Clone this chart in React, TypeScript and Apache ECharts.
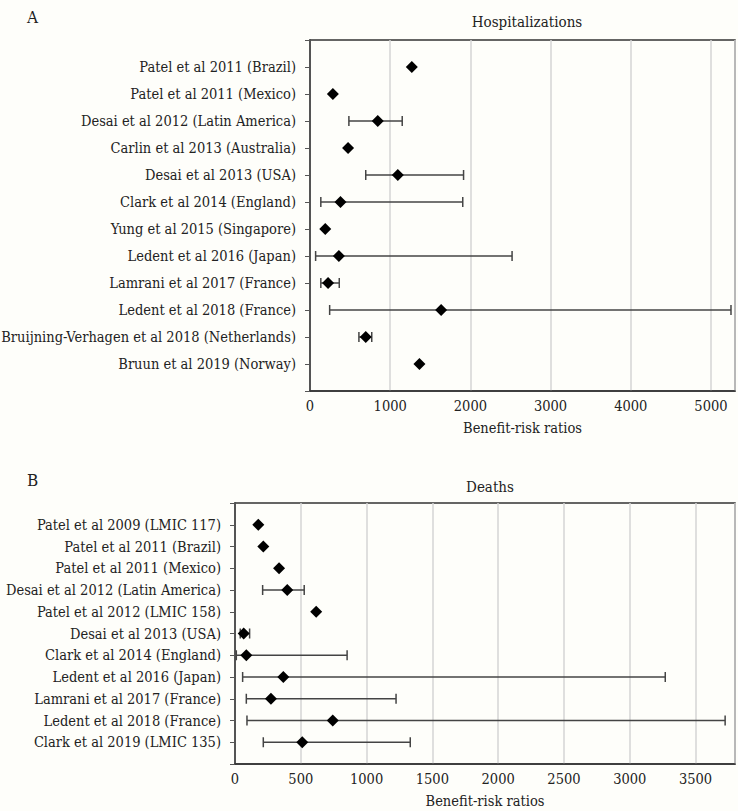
import React, { useEffect, useRef } from "react";
import * as echarts from "echarts";

const hospLabels = [
  "Patel et al 2011 (Brazil)",
  "Patel et al 2011 (Mexico)",
  "Desai et al 2012 (Latin America)",
  "Carlin et al 2013 (Australia)",
  "Desai et al 2013 (USA)",
  "Clark et al 2014 (England)",
  "Yung et al 2015 (Singapore)",
  "Ledent et al 2016 (Japan)",
  "Lamrani et al 2017 (France)",
  "Ledent et al 2018 (France)",
  "Bruijning-Verhagen et al 2018 (Netherlands)",
  "Bruun et al 2019 (Norway)",
];
const hospValues = [1270, 285, 845, 475, 1095, 380, 190, 360, 225, 1635, 695, 1365];
const hospLow = [null, null, 485, null, 695, 135, null, 70, 135, 245, 610, null];
const hospHigh = [null, null, 1150, null, 1915, 1905, null, 2520, 365, 5250, 770, null];

const deathLabels = [
  "Patel et al 2009 (LMIC 117)",
  "Patel et al 2011 (Brazil)",
  "Patel et al 2011 (Mexico)",
  "Desai et al 2012 (Latin America)",
  "Patel et al 2012 (LMIC 158)",
  "Desai et al 2013 (USA)",
  "Clark et al 2014 (England)",
  "Ledent et al 2016 (Japan)",
  "Lamrani et al 2017 (France)",
  "Ledent et al 2018 (France)",
  "Clark et al 2019 (LMIC 135)",
];
const deathValues = [177, 215, 335, 397, 617, 66, 86, 367, 273, 743, 511];
const deathLow = [null, null, null, 210, null, 40, 10, 58, 86, 91, 215];
const deathHigh = [null, null, null, 526, null, 111, 852, 3270, 1224, 3725, 1332];

const FONT = "DejaVu Serif Condensed";
const TXT = "#222";
const FS = 14.5;

function errorRender(params: any, api: any) {
  const lo = api.coord([api.value(0), api.value(2)]);
  const hi = api.coord([api.value(1), api.value(2)]);
  const h = 5;
  const style = { stroke: "#444", lineWidth: 1.5 };
  return {
    type: "group",
    children: [
      { type: "line", shape: { x1: lo[0], y1: lo[1], x2: hi[0], y2: hi[1] }, style },
      { type: "line", shape: { x1: lo[0], y1: lo[1] - h, x2: lo[0], y2: lo[1] + h }, style },
      { type: "line", shape: { x1: hi[0], y1: hi[1] - h, x2: hi[0], y2: hi[1] + h }, style },
    ],
  };
}

function errData(low: (number | null)[], high: (number | null)[]) {
  const out: number[][] = [];
  low.forEach((l, i) => {
    const h = high[i];
    if (l != null && h != null) out.push([l, h, i + 1]);
  });
  return out;
}

function yAxisFor(labels: string[], gridIndex: number) {
  return {
    type: "value",
    gridIndex,
    min: 0,
    max: labels.length + 1,
    interval: 1,
    inverse: true,
    axisLine: { show: true, lineStyle: { color: "#333", width: 1.5 } },
    axisTick: { show: true, length: 5, lineStyle: { color: "#555" } },
    splitLine: { show: false },
    axisLabel: {
      margin: 14,
      fontFamily: FONT,
      fontSize: FS,
      color: TXT,
      formatter: (v: number) => (v >= 1 && v <= labels.length ? labels[v - 1] : ""),
    },
  };
}

function xAxisFor(max: number, interval: number, gridIndex: number, nameGap: number) {
  return {
    type: "value",
    gridIndex,
    min: 0,
    max,
    interval,
    name: "Benefit-risk ratios",
    nameLocation: "middle",
    nameGap,
    nameTextStyle: { fontFamily: FONT, fontSize: FS, color: TXT },
    axisLine: { show: true, onZero: false, lineStyle: { color: "#333", width: 1.5 } },
    axisTick: { show: false },
    splitLine: { show: true, lineStyle: { color: "#d4d4d4", width: 1.5 } },
    axisLabel: {
      margin: 7,
      fontFamily: FONT,
      fontSize: FS,
      color: TXT,
      formatter: (v: number) => (v % interval === 0 ? String(v) : ""),
    },
  };
}

export default function App() {
  const ref = useRef<HTMLDivElement>(null);
  useEffect(() => {
    if (!ref.current) return;
    const chart = echarts.init(ref.current, null, { renderer: "svg" });
    chart.setOption({
      animation: false,
      backgroundColor: "#fefefa",
      textStyle: { fontFamily: FONT },
      title: [
        {
          text: "A",
          left: 22,
          top: 3,
          textStyle: { fontFamily: FONT, fontSize: 17, fontWeight: "normal", color: TXT },
        },
        {
          text: "Hospitalizations",
          left: 522,
          top: 9,
          textAlign: "center",
          textStyle: { fontFamily: FONT, fontSize: 15, fontWeight: "normal", color: TXT },
        },
        {
          text: "B",
          left: 22,
          top: 466,
          textStyle: { fontFamily: FONT, fontSize: 17, fontWeight: "normal", color: TXT },
        },
        {
          text: "Deaths",
          left: 485,
          top: 474,
          textAlign: "center",
          textStyle: { fontFamily: FONT, fontSize: 15, fontWeight: "normal", color: TXT },
        },
      ],
      grid: [
        { left: 310, right: 3, top: 40, height: 351, outerBoundsMode: "none", containLabel: false, show: true, borderColor: "#333", borderWidth: 1.5, backgroundColor: "transparent" },
        { left: 235, right: 3, top: 503, height: 261, outerBoundsMode: "none", containLabel: false, show: true, borderColor: "#333", borderWidth: 1.5, backgroundColor: "transparent" },
      ],
      xAxis: [xAxisFor(5300, 1000, 0, 29), xAxisFor(3800, 500, 1, 29)],
      yAxis: [yAxisFor(hospLabels, 0), yAxisFor(deathLabels, 1)],
      series: [
        {
          type: "custom",
          xAxisIndex: 0,
          yAxisIndex: 0,
          renderItem: errorRender,
          data: errData(hospLow, hospHigh),
          z: 2,
        },
        {
          type: "scatter",
          xAxisIndex: 0,
          yAxisIndex: 0,
          symbol: "diamond",
          symbolSize: 12,
          itemStyle: { color: "#000", opacity: 1 },
          data: hospValues.map((v, i) => [v, i + 1]),
          z: 3,
        },
        {
          type: "custom",
          xAxisIndex: 1,
          yAxisIndex: 1,
          renderItem: errorRender,
          data: errData(deathLow, deathHigh),
          z: 2,
        },
        {
          type: "scatter",
          xAxisIndex: 1,
          yAxisIndex: 1,
          symbol: "diamond",
          symbolSize: 12,
          itemStyle: { color: "#000", opacity: 1 },
          data: deathValues.map((v, i) => [v, i + 1]),
          z: 3,
        },
      ],
    });
    return () => chart.dispose();
  }, []);
  return (
    <div
      ref={ref}
      style={{ position: "absolute", left: 0, top: 0, width: 738, height: 811 }}
    />
  );
}
